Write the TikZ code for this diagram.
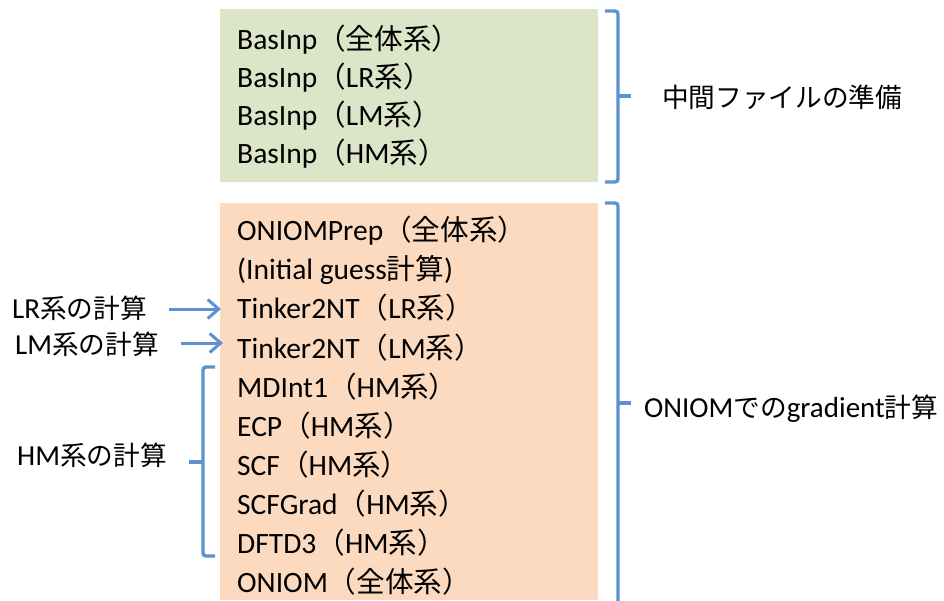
\documentclass[tikz,border=0pt]{standalone}
\usepackage{fontspec}
\setmainfont{Carlito}
\newfontfamily\jp{Noto Sans CJK JP}[Scale=0.97]
\newfontfamily\jq{Noto Sans CJK JP}[Scale=0.92]
\newcommand{\J}[1]{{\jp #1}}
\newcommand{\Q}[1]{{\jq #1}}
\usetikzlibrary{arrows.meta}
\definecolor{gbox}{RGB}{220,229,200}
\definecolor{obox}{RGB}{251,218,192}
\definecolor{bl}{RGB}{91,146,207}
\tikzset{
  txt/.style={anchor=base west, inner sep=0pt, font=\fontsize{29.5}{34}\selectfont},
  lbl/.style={anchor=base west, inner sep=0pt, font=\fontsize{29}{34}\selectfont},
  brace/.style={draw=bl, line width=3.4pt, rounded corners=3pt},
  tick/.style={draw=bl, line width=3.4pt},
  arr/.style={draw=bl, line width=3pt, -{Straight Barb[length=11pt,width=19pt,line width=3pt]}},
}
\begin{document}
\begin{tikzpicture}[x=1pt,y=-1pt]
\useasboundingbox (0,0) rectangle (944,600);
\fill[white] (0,0) rectangle (944,600);
% boxes
\path[fill=gbox] (220,9) rectangle (598,182);
\path[fill=obox] (220,203) rectangle (598,600);
% green text
\node[txt] (g1) at (237,49) {BasInp\J{（全体系）}};
\node[txt] (g2) at (237,87) {BasInp\J{（}LR\J{系）}};
\node[txt] (g3) at (237,125) {BasInp\J{（}LM\J{系）}};
\node[txt] (g4) at (237,163) {BasInp\J{（}HM\J{系）}};
% orange text
\node[txt] (o1) at (237,240) {ONIOMPrep\J{（全体系）}};
\node[txt] (o2) at (237,279) {(Initial guess\J{計算})};
\node[txt] (o3) at (237,318) {Tinker2NT\J{（}LR\J{系）}};
\node[txt] (o4) at (237,358) {Tinker2NT\J{（}LM\J{系）}};
\node[txt] (o5) at (237,397) {MDInt1\J{（}HM\J{系）}};
\node[txt] (o6) at (237,436) {ECP\J{（}HM\J{系）}};
\node[txt] (o7) at (237,475) {SCF\J{（}HM\J{系）}};
\node[txt] (o8) at (237,514) {SCFGrad\J{（}HM\J{系）}};
\node[txt] (o9) at (237,553) {DFTD3\J{（}HM\J{系）}};
\node[txt] (o10) at (237,592) {ONIOM\J{（全体系）}};
% right labels
\node[lbl] (r1) at (662,107) {\Q{中間ファイルの準備}};
\node[lbl] (r2) at (644,417) {ONIOM\Q{での}gradient\Q{計算}};
% left labels
\node[lbl] (lr) at (12,318) {LR\Q{系の計算}};
\node[lbl] (lm) at (15,354) {LM\Q{系の計算}};
\node[lbl] (hm) at (17,465) {HM\Q{系の計算}};
% right braces
\draw[brace] (605,11) -- (618,11) -- (618,182) -- (605,182);
\draw[tick] (618,96) -- (631,96);
\draw[brace] (605,203) -- (618,203) -- (618,606);
\draw[tick] (618,403) -- (631,403);
% left brace
\draw[brace] (215,367) -- (203,367) -- (203,556) -- (215,556);
\draw[tick] (203,462) -- (189,462);
% arrows
\coordinate (lrs) at (169,309);
\coordinate (lre) at (221,309);
\coordinate (lms) at (181,343);
\coordinate (lme) at (223,343);
\draw[arr] (lrs) -- (lre);
\draw[arr] (lms) -- (lme);
\end{tikzpicture}
\end{document}
